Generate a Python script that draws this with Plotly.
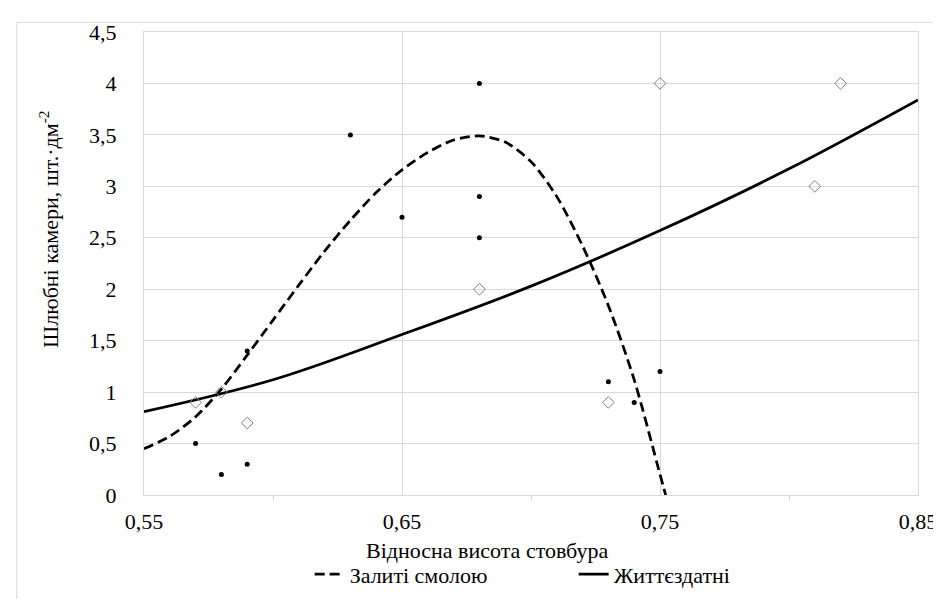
import plotly.graph_objects as go

# --- data: scatter points ---
resin_x = [0.57, 0.58, 0.59, 0.59, 0.63, 0.65, 0.68, 0.68, 0.68, 0.73, 0.74, 0.75]
resin_y = [0.5, 0.2, 0.3, 1.4, 3.5, 2.7, 4.0, 2.9, 2.5, 1.1, 0.9, 1.2]
alive_x = [0.57, 0.58, 0.59, 0.68, 0.73, 0.75, 0.81, 0.82]
alive_y = [0.9, 1.0, 0.7, 2.0, 0.9, 4.0, 3.0, 4.0]

# --- data: trendlines ---
resin_trend_x = [0.55, 0.56, 0.57, 0.58, 0.59, 0.60, 0.61, 0.62, 0.63, 0.64, 0.65,
                 0.66, 0.67, 0.68, 0.69, 0.70, 0.71, 0.72, 0.73, 0.74, 0.75, 0.7522]
resin_trend_y = [0.45, 0.57, 0.76, 1.03, 1.36, 1.70, 2.04, 2.37, 2.67, 2.94, 3.16,
                 3.33, 3.45, 3.49, 3.43, 3.24, 2.90, 2.42, 1.84, 1.12, 0.20, 0.0]
alive_trend_x = [0.55, 0.60, 0.65, 0.70, 0.75, 0.80, 0.85]
alive_trend_y = [0.81, 1.12, 1.56, 2.03, 2.57, 3.17, 3.84]

resin_name = "Залиті смолою"
alive_name = "Життєздатні"
x_title = "Відносна висота стовбура"
y_title = "Шлюбні камери, шт.·дм<sup>-2</sup>"
x_range = [0.55, 0.85]
y_range = [0, 4.5]

FONT = "Liberation Serif"
FS = 22
W, H = 941, 599
L, R, T, B = 136, 20, 17, 104
PW, PH = W - L - R, H - T - B

def px(xp):
    return (xp - L) / PW

def py(yp):
    return (H - B - yp) / PH

fig = go.Figure()
fig.add_trace(go.Scatter(x=resin_trend_x, y=resin_trend_y, mode="lines", name=resin_name,
                         line=dict(color="black", width=2.75, dash="10px,5px",
                                   shape="spline", smoothing=0.8)))
fig.add_trace(go.Scatter(x=alive_trend_x, y=alive_trend_y, mode="lines", name=alive_name,
                         line=dict(color="black", width=2.75, shape="spline")))
fig.add_trace(go.Scatter(x=resin_x, y=resin_y, mode="markers", showlegend=False,
                         marker=dict(symbol="circle", size=5, color="black")))
fig.add_trace(go.Scatter(x=alive_x, y=alive_y, mode="markers", showlegend=False,
                         marker=dict(symbol="diamond-open", size=9, color="#7f7f7f",
                                     line=dict(width=1, color="#7f7f7f"))))

grid = "#d9d9d9"
fig.update_layout(
    width=W, height=H,
    margin=dict(l=L, r=R, t=T, b=B),
    paper_bgcolor="white", plot_bgcolor="white",
    separators=", ",
    font=dict(family=FONT, size=FS, color="black"),
    showlegend=True,
    legend=dict(orientation="h", x=px(304), y=py(577), xanchor="left", yanchor="middle",
                font=dict(family=FONT, size=FS), entrywidth=219, entrywidthmode="pixels",
                bgcolor="rgba(0,0,0,0)"),
    xaxis=dict(range=x_range, tick0=0.55, dtick=0.1, tickformat=".2f",
               showgrid=True, gridcolor=grid, gridwidth=1,
               showline=True, linecolor=grid, linewidth=1, mirror=True,
               zeroline=False, ticks="", ticklabelstandoff=7,
               minor=dict(ticks="outside", ticklen=5, tickcolor=grid, dtick=0.05,
                          tick0=0.55, showgrid=False),
               tickfont=dict(family=FONT, size=FS)),
    yaxis=dict(range=y_range, dtick=0.5, showgrid=True, gridcolor=grid, gridwidth=1,
               showline=True, linecolor=grid, linewidth=1, mirror=True,
               zeroline=False, ticks="", ticklabelstandoff=22,
               tickfont=dict(family=FONT, size=FS)),
)

fig.add_annotation(text=x_title, xref="paper", yref="paper", x=px(484), y=py(552),
                   xanchor="center", yanchor="middle", showarrow=False,
                   font=dict(family=FONT, size=FS))
fig.add_annotation(text=y_title, xref="paper", yref="paper", x=px(39), y=py(221),
                   xanchor="center", yanchor="middle", showarrow=False, textangle=-90,
                   font=dict(family=FONT, size=FS))
# clipped fragments of surrounding document text at the very top
fig.add_annotation(text="(у", xref="paper", yref="paper", x=px(0), y=py(-6),
                   xanchor="left", yanchor="bottom", showarrow=False,
                   font=dict(family=FONT, size=24))
fig.add_annotation(text="(рис. 3.5)", xref="paper", yref="paper", x=px(155), y=py(-6),
                   xanchor="left", yanchor="bottom", showarrow=False,
                   font=dict(family=FONT, size=24))

# outer chart border
fig.add_shape(type="rect", xref="paper", yref="paper",
              x0=px(7), x1=px(950), y0=py(610), y1=py(7),
              line=dict(color=grid, width=1), fillcolor="rgba(0,0,0,0)", layer="below")

fig.write_html("out.html")
